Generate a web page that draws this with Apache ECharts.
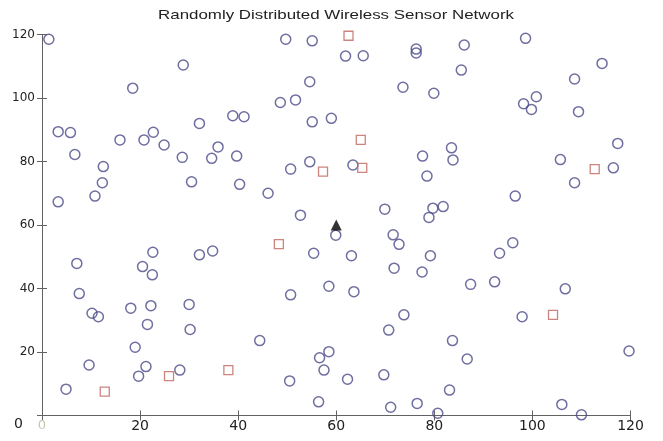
<!DOCTYPE html>
<html>
<head>
<meta charset="utf-8">
<script src="https://cdn.jsdelivr.net/npm/echarts@6/dist/echarts.min.js"></script>
<style>
  html, body { margin: 0; padding: 0; background: #fff; }
  #chart { width: 663px; height: 441px; }
</style>
</head>
<body>
<div id="chart"></div>
<script>
// Sensor node positions (m) in the 120 x 120 field
const sensorNodes = [
  [1.4,118.5],[28.8,110.4],[18.5,103.1],[38.9,94.4],[41.2,94.1],[32.1,92.0],
  [3.3,89.4],[5.8,89.1],[15.9,86.8],[20.8,86.8],[22.7,89.2],[24.9,85.2],
  [35.9,84.6],[34.6,81.0],[39.7,81.7],[28.6,81.3],[6.7,82.2],[12.5,78.4],
  [12.3,73.3],[3.3,67.3],[10.8,69.1],[30.5,73.6],[40.3,72.8],[22.6,51.4],
  [20.5,46.9],[22.5,44.3],[32.1,50.6],[34.8,51.8],[7.1,47.9],[7.6,38.4],
  [10.2,32.2],[11.5,31.1],[18.1,33.8],[22.2,34.6],[21.5,28.7],[30.0,35.0],
  [30.2,27.1],[19.0,21.5],[9.6,15.9],[21.2,15.4],[19.7,12.4],[28.1,14.3],
  [4.9,8.3],
  [49.7,118.5],[55.1,118.0],[61.9,113.2],[65.5,113.3],[76.3,115.4],[76.3,114.2],
  [54.6,105.1],[73.6,103.4],[48.6,98.6],[51.7,99.4],[55.1,92.5],[59.0,93.6],
  [77.6,81.7],[54.6,79.9],[50.7,77.6],[63.4,78.9],[46.1,70.0],[78.5,75.4],
  [69.9,65.0],[52.7,63.1],[59.9,56.8],[55.4,51.1],[63.1,50.3],[71.6,56.9],
  [72.8,53.9],[71.8,46.4],[77.5,45.2],[58.5,40.7],[63.6,39.0],[50.7,38.0],
  [73.8,31.7],[70.7,26.9],[44.4,23.6],[58.5,20.1],[56.6,18.2],[57.5,14.3],
  [50.5,10.9],[62.3,11.4],[69.7,12.8],[56.4,4.3],[71.1,2.6],[76.5,3.8],
  [86.1,116.7],[98.6,118.8],[85.5,108.8],[114.2,110.9],[108.6,106.0],[79.9,101.5],
  [98.2,98.2],[100.8,100.4],[99.8,96.4],[109.4,95.7],[117.4,85.7],[83.5,84.3],
  [83.8,80.5],[105.7,80.6],[116.5,78.0],[108.6,73.3],[96.5,69.1],[79.7,65.3],
  [78.9,62.4],[81.8,65.8],[96.0,54.4],[93.3,51.1],[79.2,50.3],[87.4,41.3],
  [92.3,42.1],[106.7,39.9],[97.9,31.1],[83.7,23.6],[86.7,17.8],[119.7,20.3],
  [83.1,8.0],[80.7,0.7],[106.0,3.5],[110.0,0.2]
];

// Cluster heads
const clusterHeads = [
  [62.5,119.6],[65.0,86.8],[57.3,76.8],[65.3,78.0],[48.3,54.0],
  [112.7,77.6],[25.9,12.4],[38.0,14.3],[12.8,7.5],[104.2,31.7]
];

// Base station
const baseStation = [[60, 60]];

const axisTicks = [0, 20, 40, 60, 80, 100, 120];
const titleText = 'Randomly Distributed Wireless Sensor Network';

const chart = echarts.init(document.getElementById('chart'), null, { renderer: 'canvas' });

const boxLine = { show: true, lineStyle: { color: '#626262', width: 1 } };
const inTick = { show: true, inside: true, length: 5, lineStyle: { color: '#626262', width: 1 } };
const font = 'DejaVu Sans, Verdana, sans-serif';

chart.setOption({
  animation: false,
  backgroundColor: '#ffffff',
  // Title drawn as a horizontally widened text element centred over the plot box
  graphic: [{
    type: 'text',
    x: 336,
    y: 15,
    scaleX: 1.3,
    silent: true,
    style: {
      text: titleText,
      x: 0, y: 0,
      align: 'center',
      verticalAlign: 'middle',
      font: '13px "Liberation Sans", Arial, sans-serif',
      fill: '#222'
    }
  }],
  grid: { left: 42, right: 32.5, top: 34.5, bottom: 25.5, containLabel: false },
  xAxis: [
    {
      type: 'value', min: axisTicks[0], max: axisTicks[axisTicks.length - 1], interval: 20,
      position: 'bottom',
      axisLine: boxLine, axisTick: inTick, splitLine: { show: false },
      axisLabel: {
        margin: 4, fontFamily: font, fontSize: 14, color: '#222',
        formatter: v => v === 0 ? '{f|0}' : String(v),
        rich: { f: { color: '#c9c5ad', fontFamily: font, fontSize: 13 } }
      }
    },
    {
      type: 'value', min: axisTicks[0], max: axisTicks[axisTicks.length - 1], interval: 20,
      position: 'top',
      axisLine: boxLine, axisTick: inTick, splitLine: { show: false },
      axisLabel: { show: false }
    }
  ],
  yAxis: [
    {
      type: 'value', min: axisTicks[0], max: axisTicks[axisTicks.length - 1], interval: 20,
      position: 'left',
      axisLine: boxLine, axisTick: inTick, splitLine: { show: false },
      axisLabel: {
        margin: 7, fontFamily: font, fontSize: 12, color: '#222',
        formatter: v => v === 0 ? '{z|0}' : String(v),
        rich: { z: { padding: [18, 12, 0, 0], fontFamily: font, fontSize: 14, color: '#222' } }
      }
    },
    {
      type: 'value', min: axisTicks[0], max: axisTicks[axisTicks.length - 1], interval: 20,
      position: 'right',
      axisLine: boxLine, axisTick: inTick, splitLine: { show: false },
      axisLabel: { show: false }
    }
  ],
  series: [
    {
      name: 'Sensor nodes', type: 'scatter', data: sensorNodes,
      symbol: 'circle', symbolSize: 10,
      itemStyle: { color: 'rgba(0,0,0,0)', borderColor: '#4a4a88', borderWidth: 1.5 }
    },
    {
      name: 'Cluster heads', type: 'scatter', data: clusterHeads,
      symbol: 'rect', symbolSize: 9,
      itemStyle: { color: 'rgba(0,0,0,0)', borderColor: '#c0655b', borderWidth: 1.3 }
    },
    {
      name: 'Base station', type: 'scatter', data: baseStation,
      symbol: 'triangle', symbolSize: 11,
      itemStyle: { color: '#000' }
    }
  ]
});
</script>
</body>
</html>
